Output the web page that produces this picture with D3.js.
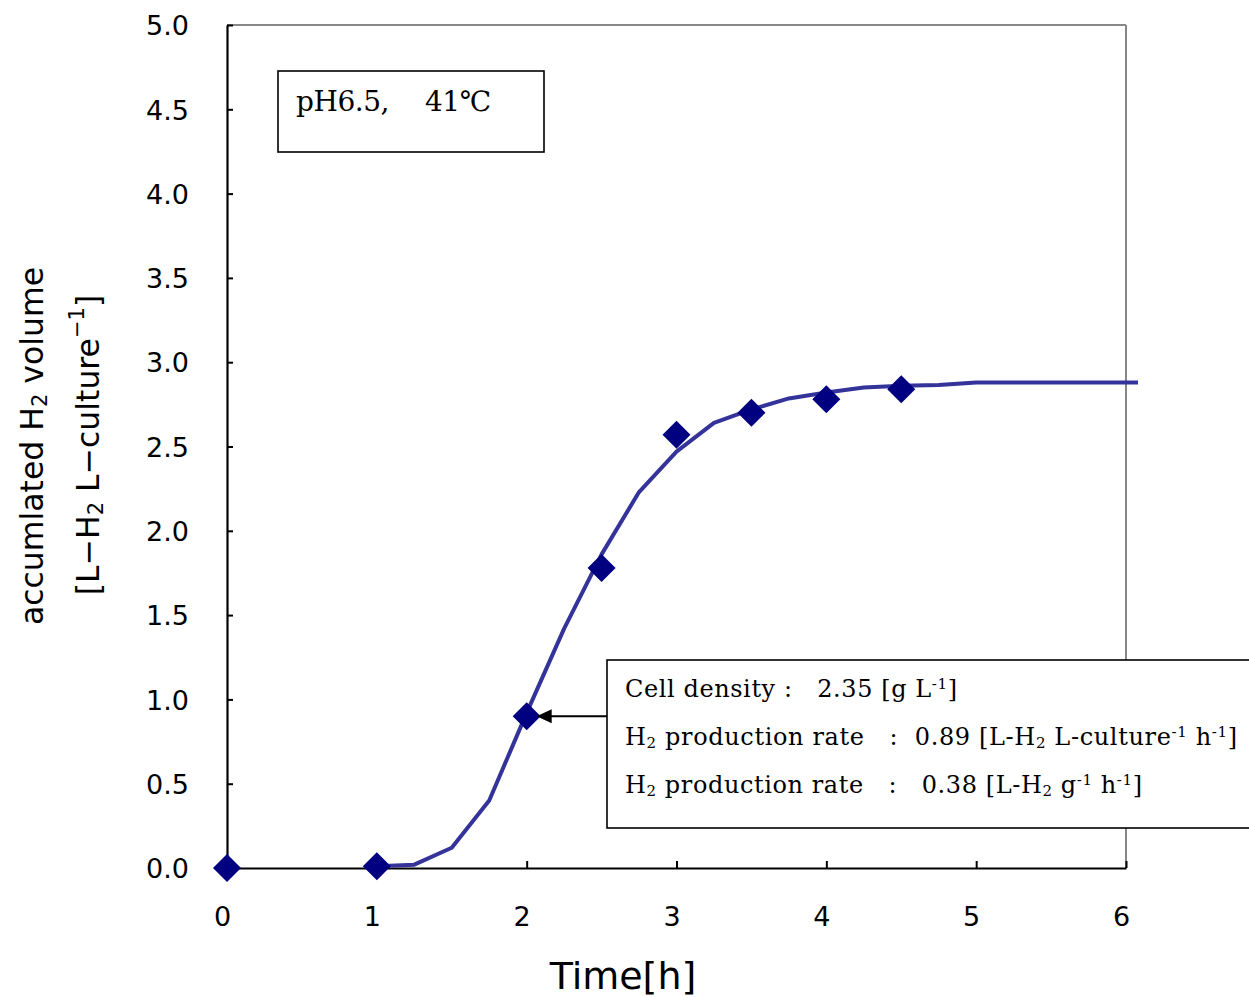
<!DOCTYPE html>
<html><head><meta charset="utf-8">
<script src="https://cdn.jsdelivr.net/npm/d3@7"></script>
<style>
html,body{margin:0;padding:0;background:#fff;}
svg{display:block;}
text{white-space:pre;}
</style></head>
<body>
<script>
// ---- data ----
const markerTimes = [0, 1, 2, 2.5, 3, 3.5, 4, 4.5];
const markerValues = [0, 0.01, 0.90, 1.78, 2.57, 2.70, 2.78, 2.84];
const curveTimes = [1, 1.25, 1.5, 1.75, 2, 2.25, 2.5, 2.75, 3, 3.25, 3.5, 3.75, 4, 4.25, 4.5, 4.75, 5, 5.25, 5.5, 5.75, 6, 6.08];
const curveValues = [0.01, 0.02, 0.12, 0.40, 0.92, 1.42, 1.86, 2.23, 2.47, 2.64, 2.72, 2.785, 2.82, 2.85, 2.86, 2.865, 2.88, 2.88, 2.88, 2.88, 2.88, 2.88];
const xTicks = [0, 1, 2, 3, 4, 5, 6];
const yTicks = [0, 0.5, 1, 1.5, 2, 2.5, 3, 3.5, 4, 4.5, 5];
const conditionLabel = "pH6.5,\u3000 41\u2103";
const annotationLines = [
  [{t:"Cell density :   2.35 [g L"},{t:"-1",sup:true},{t:"]"}],
  [{t:"H"},{t:"2",sub:true},{t:" production rate   :  0.89 [L-H"},{t:"2",sub:true},{t:" L-culture"},{t:"-1",sup:true},{t:" h"},{t:"-1",sup:true},{t:"]"}],
  [{t:"H"},{t:"2",sub:true},{t:" production rate   :   0.38 [L-H"},{t:"2",sub:true},{t:" g"},{t:"-1",sup:true},{t:" h"},{t:"-1",sup:true},{t:"]"}]
];
const annotationWidths = [332, 612, 517];
const yTitle1 = [{t:"accumlated H"},{t:"2",sub:true},{t:" volume"}];
const yTitle2 = [{t:"[L\u2212H"},{t:"2",sub:true},{t:" L\u2212culture"},{t:"\u22121",sup:true},{t:"]"}];
const xTitle = "Time[h]";

// ---- layout ----
const W = 1249, H = 997;
const svg = d3.select("body").append("svg").attr("width", W).attr("height", H);
const x = d3.scaleLinear().domain([0, 6]).range([227, 1126]);
const y = d3.scaleLinear().domain([0, 5]).range([868, 25]);

function rich(sel, segs, smallSize, supShift, subShift) {
  segs.forEach(s => {
    const ts = sel.append("tspan").text(s.t);
    if (s.sub) ts.attr("font-size", smallSize).attr("baseline-shift", -subShift);
    else if (s.sup) ts.attr("font-size", smallSize).attr("baseline-shift", supShift);
  });
}

// frame: top & right grey
svg.append("line").attr("x1", x(0)).attr("x2", x(6)).attr("y1", y(5)).attr("y2", y(5))
  .attr("stroke", "#878787").attr("stroke-width", 2);
svg.append("line").attr("x1", x(6)).attr("x2", x(6)).attr("y1", y(5)).attr("y2", y(0))
  .attr("stroke", "#878787").attr("stroke-width", 2);

// axes
const yAxis = d3.axisLeft(y).tickValues(yTicks).tickSizeInner(-6).tickSizeOuter(0).tickFormat(d3.format(".1f"));
const gy = svg.append("g").attr("transform", `translate(${x(0)},0)`).call(yAxis);
gy.select(".domain").attr("stroke", "#000").attr("stroke-width", 2.2);
gy.selectAll(".tick line").attr("stroke", "#000").attr("stroke-width", 2);
gy.selectAll(".tick text").attr("x", -38).attr("dy", "0.36em")
  .attr("font-family", "DejaVu Sans").attr("font-size", 27).attr("fill", "#000");

const xAxis = d3.axisBottom(x).tickValues(xTicks).tickSizeInner(-7).tickSizeOuter(0).tickFormat(d3.format("d"));
const gx = svg.append("g").attr("transform", `translate(0,${y(0)})`).call(xAxis);
gx.select(".domain").attr("stroke", "#000").attr("stroke-width", 2.2);
gx.selectAll(".tick line").attr("stroke", "#000").attr("stroke-width", 2);
gx.selectAll(".tick text").attr("y", 58).attr("dy", 0).attr("x", -5)
  .attr("font-family", "DejaVu Sans").attr("font-size", 27).attr("fill", "#000");

// curve
const line = d3.line().x((d, i) => x(curveTimes[i])).y((d, i) => y(curveValues[i]));
svg.append("path").datum(curveValues).attr("d", line)
  .attr("fill", "none").attr("stroke", "#333399").attr("stroke-width", 4).attr("stroke-linejoin", "round");

// markers (diamonds)
const r = 14;
svg.selectAll("path.mk").data(markerValues).join("path").attr("class", "mk")
  .attr("d", (d, i) => {
    const cx = x(markerTimes[i]), cy = y(d);
    return `M${cx},${cy - r}L${cx + r},${cy}L${cx},${cy + r}L${cx - r},${cy}Z`;
  })
  .attr("fill", "#000080");

// condition box
svg.append("rect").attr("x", 278).attr("y", 71).attr("width", 266).attr("height", 81)
  .attr("fill", "#fff").attr("stroke", "#000").attr("stroke-width", 1.6);
svg.append("text").attr("x", 296).attr("y", 111).attr("font-family", "DejaVu Serif")
  .attr("font-size", 28).attr("fill", "#000").attr("textLength", 195).attr("lengthAdjust", "spacing")
  .text(conditionLabel);

// annotation box
svg.append("rect").attr("x", 607).attr("y", 660).attr("width", 700).attr("height", 168)
  .attr("fill", "#fff").attr("stroke", "#000").attr("stroke-width", 1.6);
annotationLines.forEach((segs, k) => {
  const t = svg.append("text").attr("x", 625).attr("y", 697 + k * 48)
    .attr("font-family", "DejaVu Serif").attr("font-size", 24).attr("fill", "#000")
    .attr("textLength", annotationWidths[k]).attr("lengthAdjust", "spacing");
  rich(t, segs, 15, 8, 3);
});

// arrow from box to data point t=2
const ai = markerTimes.indexOf(2);
const tipX = x(markerTimes[ai]) + 10, tipY = y(markerValues[ai]);
svg.append("line").attr("x1", 607).attr("x2", tipX + 10).attr("y1", tipY).attr("y2", tipY)
  .attr("stroke", "#000").attr("stroke-width", 2);
svg.append("path").attr("d", `M${tipX},${tipY}L${tipX + 15},${tipY - 7}L${tipX + 15},${tipY + 7}Z`).attr("fill", "#000");

// axis titles
const yt1 = svg.append("text").attr("transform", "translate(43,446) rotate(-90)")
  .attr("text-anchor", "middle").attr("font-family", "DejaVu Sans").attr("font-size", 31.5).attr("fill", "#000");
rich(yt1, yTitle1, 21, 12, 4);
const yt2 = svg.append("text").attr("transform", "translate(99,445) rotate(-90)")
  .attr("text-anchor", "middle").attr("font-family", "DejaVu Sans").attr("font-size", 31.5).attr("fill", "#000");
rich(yt2, yTitle2, 21, 15, 4);
svg.append("text").attr("x", 623).attr("y", 989).attr("text-anchor", "middle")
  .attr("font-family", "DejaVu Sans").attr("font-size", 38).attr("fill", "#000").text(xTitle);
</script>
</body></html>
